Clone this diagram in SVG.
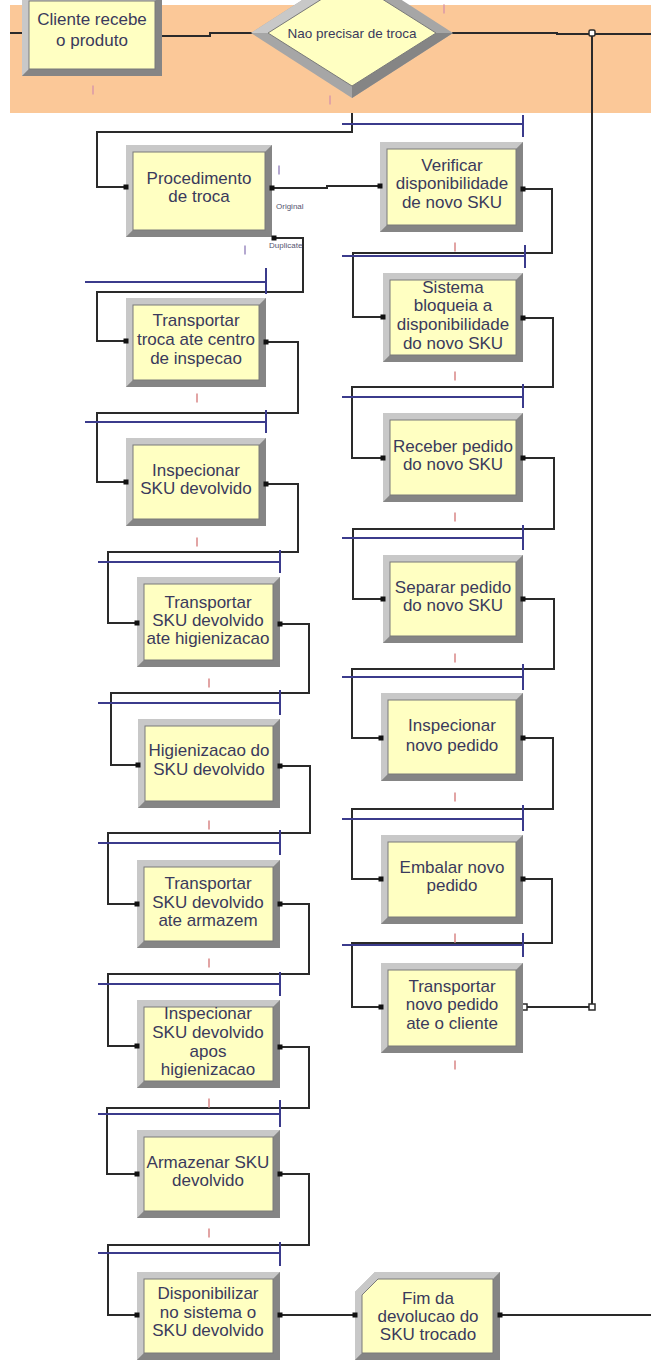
<svg xmlns="http://www.w3.org/2000/svg" xmlns:xlink="http://www.w3.org/1999/xlink" width="651" height="1362" viewBox="0 0 651 1362">
<defs>
<style>
.o{fill:#a6a6a6}
.hl{fill:#c8c8c8}
.sh{fill:#858585}
.in{fill:#FFFFC2;stroke:#7a7a7a;stroke-width:1}
.t{font-family:"Liberation Sans",Arial,sans-serif;font-size:17px;fill:#3a3a5c;text-anchor:middle}
.s{font-family:"Liberation Sans",Arial,sans-serif;font-size:8px;fill:#555570}
.c{fill:none;stroke:#2a2a2a;stroke-width:2}
.b{fill:none;stroke:#3b3b8c;stroke-width:2}
.r{fill:#e2a4a4}
.p{fill:#b4a8d0}
.hol{fill:#ffffff;stroke:#2a2a2a;stroke-width:1.5}
</style>
<rect id="dot" x="-2.5" y="-2.5" width="5" height="5" fill="#111"/>
<rect id="mk" x="-1" y="-4.5" width="2" height="9"/>
</defs>
<rect x="0" y="0" width="651" height="1362" fill="#ffffff"/>
<rect x="10" y="5" width="641" height="108" fill="#FBC898"/>

<g id="connectors">
<path class="c" d="M10,33H22"/>
<path class="c" d="M162,36H210V33H253"/>
<path class="c" d="M452,33H557V34H651"/>
<path class="c" d="M592,33V1007H523"/>
<path class="c" d="M352,113V132H97V187H126"/>
<path class="c" d="M272,188H327V186H380"/>
<path class="c" d="M274,238H303V292H97V341H126"/>
<path class="c" d="M266,342H298V413H97V482H126"/>
<path class="c" d="M266,484H298V552H108V623H137"/>
<path class="c" d="M280,624H309V693H111V765H138"/>
<path class="c" d="M280,766H310V833H108V904H137"/>
<path class="c" d="M280,904H309V974H108V1046H137"/>
<path class="c" d="M280,1047H309V1108H107V1174H137"/>
<path class="c" d="M280,1174H309V1245H108V1315H137"/>
<path class="c" d="M280,1315H355"/>
<path class="c" d="M500,1315H651"/>
<path class="c" d="M523,189H552V253H353V317H383"/>
<path class="c" d="M523,318H553V387H352V458H383"/>
<path class="c" d="M523,458H554V529H353V599H383"/>
<path class="c" d="M523,599H554V669H352V738H381"/>
<path class="c" d="M523,738H553V809H352V879H381"/>
<path class="c" d="M523,879H552V943H352V1007H381"/>
<path class="b" d="M342,124H523M523,115V137"/>
<path class="b" d="M342,256H525M525,245V268"/>
<path class="b" d="M342,397H523M523,384V408"/>
<path class="b" d="M342,538H523M523,525V550"/>
<path class="b" d="M342,677H523M523,664V690"/>
<path class="b" d="M342,819H523M523,805V831"/>
<path class="b" d="M342,945H523M523,933V957"/>
<path class="b" d="M85,282H266M266,268V294"/>
<path class="b" d="M85,422H266M266,410V433"/>
<path class="b" d="M98,562H280M280,550V573"/>
<path class="b" d="M98,703H280M280,690V715"/>
<path class="b" d="M98,843H280M280,830V855"/>
<path class="b" d="M98,984H280M280,972V996"/>
<path class="b" d="M98,1114H280M280,1100V1127"/>
<path class="b" d="M98,1253H280M280,1242V1266"/>
<rect class="hol" x="589" y="30" width="6" height="6" rx="1.5"/>
<rect class="hol" x="589" y="1004" width="6" height="6"/>
<rect class="hol" x="522" y="1004" width="5" height="6"/>
</g>

<g id="marks">
<use href="#mk" class="r" x="93" y="90"/>
<use href="#mk" class="r" x="330" y="100"/>
<use href="#mk" class="r" x="444" y="9"/>
<use href="#mk" class="p" x="279" y="170"/>
<use href="#mk" class="p" x="245" y="250"/>
<use href="#mk" class="r" x="197" y="398"/>
<use href="#mk" class="r" x="197" y="542"/>
<use href="#mk" class="r" x="209" y="683"/>
<use href="#mk" class="r" x="209" y="825"/>
<use href="#mk" class="r" x="209" y="963"/>
<use href="#mk" class="r" x="209" y="1103"/>
<use href="#mk" class="r" x="209" y="1233"/>
<use href="#mk" class="r" x="455" y="247"/>
<use href="#mk" class="r" x="455" y="376"/>
<use href="#mk" class="r" x="455" y="517"/>
<use href="#mk" class="r" x="455" y="658"/>
<use href="#mk" class="r" x="455" y="797"/>
<use href="#mk" class="r" x="455" y="938"/>
<use href="#mk" class="r" x="455" y="1065"/>
</g>

<g id="cliente">
<rect class="o" x="22" y="-6" width="140" height="82"/>
<path class="hl" d="M22,-6H162L155,1H29V69L22,76Z"/>
<path class="sh" d="M162,-6V76H22L29,69H155V1Z"/>
<rect class="in" x="29" y="1" width="126" height="68"/>
<text class="t" x="92" y="25">Cliente recebe</text>
<text class="t" x="92" y="46">o produto</text>
</g>

<g id="decisao">
<polygon class="o" points="352,-32 453,33 352,98 251,33"/>
<polygon class="hl" points="352,-32 251,33 268,33 352,-20"/>
<polygon class="sh" points="453,33 352,98 352,86 436,33"/>
<polygon class="in" points="352,-20 436,33 352,86 268,33"/>
<text class="t" x="352" y="38" style="font-size:13.5px">Nao precisar de troca</text>
</g>

<g id="procedimento">
<rect class="o" x="126" y="145" width="146" height="92"/>
<path class="hl" d="M126,145H272L265,152H133V230L126,237Z"/>
<path class="sh" d="M272,145V237H126L133,230H265V152Z"/>
<rect class="in" x="133" y="152" width="132" height="78"/>
<text class="t" x="199" y="184">Procedimento</text>
<text class="t" x="199" y="202">de troca</text>
<text class="s" x="276" y="209">Original</text>
<text class="s" x="269" y="248">Duplicate</text>
</g>

<g id="transportar-troca">
<rect class="o" x="126" y="298" width="140" height="89"/>
<path class="hl" d="M126,298H266L259,305H133V380L126,387Z"/>
<path class="sh" d="M266,298V387H126L133,380H259V305Z"/>
<rect class="in" x="133" y="305" width="126" height="75"/>
<text class="t" x="196" y="326">Transportar</text>
<text class="t" x="196" y="345">troca ate centro</text>
<text class="t" x="196" y="364">de inspecao</text>
</g>

<g id="inspecionar-sku">
<rect class="o" x="126" y="438" width="140" height="88"/>
<path class="hl" d="M126,438H266L259,445H133V519L126,526Z"/>
<path class="sh" d="M266,438V526H126L133,519H259V445Z"/>
<rect class="in" x="133" y="445" width="126" height="74"/>
<text class="t" x="196" y="476">Inspecionar</text>
<text class="t" x="196" y="494">SKU devolvido</text>
</g>

<g id="transportar-higienizacao">
<rect class="o" x="137" y="577" width="143" height="90"/>
<path class="hl" d="M137,577H280L273,584H144V660L137,667Z"/>
<path class="sh" d="M280,577V667H137L144,660H273V584Z"/>
<rect class="in" x="144" y="584" width="129" height="76"/>
<text class="t" x="208" y="608">Transportar</text>
<text class="t" x="208" y="626">SKU devolvido</text>
<text class="t" x="208" y="644">ate higienizacao</text>
</g>

<g id="higienizacao">
<rect class="o" x="138" y="719" width="142" height="89"/>
<path class="hl" d="M138,719H280L273,726H145V801L138,808Z"/>
<path class="sh" d="M280,719V808H138L145,801H273V726Z"/>
<rect class="in" x="145" y="726" width="128" height="75"/>
<text class="t" x="209" y="756">Higienizacao do</text>
<text class="t" x="209" y="775">SKU devolvido</text>
</g>

<g id="transportar-armazem">
<rect class="o" x="137" y="860" width="143" height="88"/>
<path class="hl" d="M137,860H280L273,867H144V941L137,948Z"/>
<path class="sh" d="M280,860V948H137L144,941H273V867Z"/>
<rect class="in" x="144" y="867" width="129" height="74"/>
<text class="t" x="208" y="889">Transportar</text>
<text class="t" x="208" y="908">SKU devolvido</text>
<text class="t" x="208" y="926">ate armazem</text>
</g>

<g id="inspecionar-apos">
<rect class="o" x="137" y="1000" width="143" height="88"/>
<path class="hl" d="M137,1000H280L273,1007H144V1081L137,1088Z"/>
<path class="sh" d="M280,1000V1088H137L144,1081H273V1007Z"/>
<rect class="in" x="144" y="1007" width="129" height="74"/>
<text class="t" x="208" y="1019">Inspecionar</text>
<text class="t" x="208" y="1038">SKU devolvido</text>
<text class="t" x="208" y="1057">apos</text>
<text class="t" x="208" y="1075">higienizacao</text>
</g>

<g id="armazenar">
<rect class="o" x="137" y="1130" width="143" height="88"/>
<path class="hl" d="M137,1130H280L273,1137H144V1211L137,1218Z"/>
<path class="sh" d="M280,1130V1218H137L144,1211H273V1137Z"/>
<rect class="in" x="144" y="1137" width="129" height="74"/>
<text class="t" x="208" y="1168">Armazenar SKU</text>
<text class="t" x="208" y="1186">devolvido</text>
</g>

<g id="disponibilizar">
<rect class="o" x="137" y="1272" width="143" height="88"/>
<path class="hl" d="M137,1272H280L273,1279H144V1353L137,1360Z"/>
<path class="sh" d="M280,1272V1360H137L144,1353H273V1279Z"/>
<rect class="in" x="144" y="1279" width="129" height="74"/>
<text class="t" x="208" y="1299">Disponibilizar</text>
<text class="t" x="208" y="1318">no sistema o</text>
<text class="t" x="208" y="1336">SKU devolvido</text>
</g>

<g id="fim">
<path class="o" d="M355,1292L375,1272H500V1360H355Z"/>
<path class="hl" d="M355,1292L375,1272H500L493,1279H378L362,1295V1353L355,1360Z"/>
<path class="sh" d="M500,1272V1360H355L362,1353H493V1279Z"/>
<path class="in" d="M362,1295L378,1279H493V1353H362Z"/>
<text class="t" x="428" y="1304">Fim da</text>
<text class="t" x="428" y="1322">devolucao do</text>
<text class="t" x="428" y="1340">SKU trocado</text>
</g>

<g id="verificar">
<rect class="o" x="380" y="142" width="143" height="90"/>
<path class="hl" d="M380,142H523L516,149H387V225L380,232Z"/>
<path class="sh" d="M523,142V232H380L387,225H516V149Z"/>
<rect class="in" x="387" y="149" width="129" height="76"/>
<text class="t" x="452" y="171">Verificar</text>
<text class="t" x="452" y="189">disponibilidade</text>
<text class="t" x="452" y="208">de novo SKU</text>
</g>

<g id="sistema-bloqueia">
<rect class="o" x="383" y="273" width="140" height="89"/>
<path class="hl" d="M383,273H523L516,280H390V355L383,362Z"/>
<path class="sh" d="M523,273V362H383L390,355H516V280Z"/>
<rect class="in" x="390" y="280" width="126" height="75"/>
<text class="t" x="453" y="293">Sistema</text>
<text class="t" x="453" y="311">bloqueia a</text>
<text class="t" x="453" y="330">disponibilidade</text>
<text class="t" x="453" y="349">do novo SKU</text>
</g>

<g id="receber">
<rect class="o" x="383" y="413" width="140" height="89"/>
<path class="hl" d="M383,413H523L516,420H390V495L383,502Z"/>
<path class="sh" d="M523,413V502H383L390,495H516V420Z"/>
<rect class="in" x="390" y="420" width="126" height="75"/>
<text class="t" x="453" y="452">Receber pedido</text>
<text class="t" x="453" y="470">do novo SKU</text>
</g>

<g id="separar">
<rect class="o" x="383" y="555" width="140" height="88"/>
<path class="hl" d="M383,555H523L516,562H390V636L383,643Z"/>
<path class="sh" d="M523,555V643H383L390,636H516V562Z"/>
<rect class="in" x="390" y="562" width="126" height="74"/>
<text class="t" x="453" y="593">Separar pedido</text>
<text class="t" x="453" y="611">do novo SKU</text>
</g>

<g id="inspecionar-novo">
<rect class="o" x="381" y="693" width="142" height="88"/>
<path class="hl" d="M381,693H523L516,700H388V774L381,781Z"/>
<path class="sh" d="M523,693V781H381L388,774H516V700Z"/>
<rect class="in" x="388" y="700" width="128" height="74"/>
<text class="t" x="452" y="731">Inspecionar</text>
<text class="t" x="452" y="751">novo pedido</text>
</g>

<g id="embalar">
<rect class="o" x="381" y="835" width="142" height="89"/>
<path class="hl" d="M381,835H523L516,842H388V917L381,924Z"/>
<path class="sh" d="M523,835V924H381L388,917H516V842Z"/>
<rect class="in" x="388" y="842" width="128" height="75"/>
<text class="t" x="452" y="873">Embalar novo</text>
<text class="t" x="452" y="891">pedido</text>
</g>

<g id="transportar-cliente">
<rect class="o" x="381" y="963" width="142" height="90"/>
<path class="hl" d="M381,963H523L516,970H388V1046L381,1053Z"/>
<path class="sh" d="M523,963V1053H381L388,1046H516V970Z"/>
<rect class="in" x="388" y="970" width="128" height="76"/>
<text class="t" x="452" y="992">Transportar</text>
<text class="t" x="452" y="1010">novo pedido</text>
<text class="t" x="452" y="1029">ate o cliente</text>
</g>

<g id="ports">
<use href="#dot" x="126" y="187"/><use href="#dot" x="126" y="341"/><use href="#dot" x="126" y="482"/>
<use href="#dot" x="137" y="623"/><use href="#dot" x="138" y="765"/><use href="#dot" x="137" y="904"/>
<use href="#dot" x="137" y="1046"/><use href="#dot" x="137" y="1174"/><use href="#dot" x="137" y="1315"/>
<use href="#dot" x="355" y="1315"/>
<use href="#dot" x="380" y="186"/><use href="#dot" x="383" y="317"/><use href="#dot" x="383" y="458"/>
<use href="#dot" x="383" y="599"/><use href="#dot" x="381" y="738"/><use href="#dot" x="381" y="879"/>
<use href="#dot" x="381" y="1007"/>
<use href="#dot" x="272" y="188"/><use href="#dot" x="274" y="238"/><use href="#dot" x="266" y="342"/>
<use href="#dot" x="266" y="484"/><use href="#dot" x="280" y="624"/><use href="#dot" x="280" y="766"/>
<use href="#dot" x="280" y="904"/><use href="#dot" x="280" y="1047"/><use href="#dot" x="280" y="1174"/>
<use href="#dot" x="280" y="1315"/><use href="#dot" x="500" y="1315"/>
<use href="#dot" x="523" y="189"/><use href="#dot" x="523" y="318"/><use href="#dot" x="523" y="458"/>
<use href="#dot" x="523" y="599"/><use href="#dot" x="523" y="738"/><use href="#dot" x="523" y="879"/>
</g>
</svg>
